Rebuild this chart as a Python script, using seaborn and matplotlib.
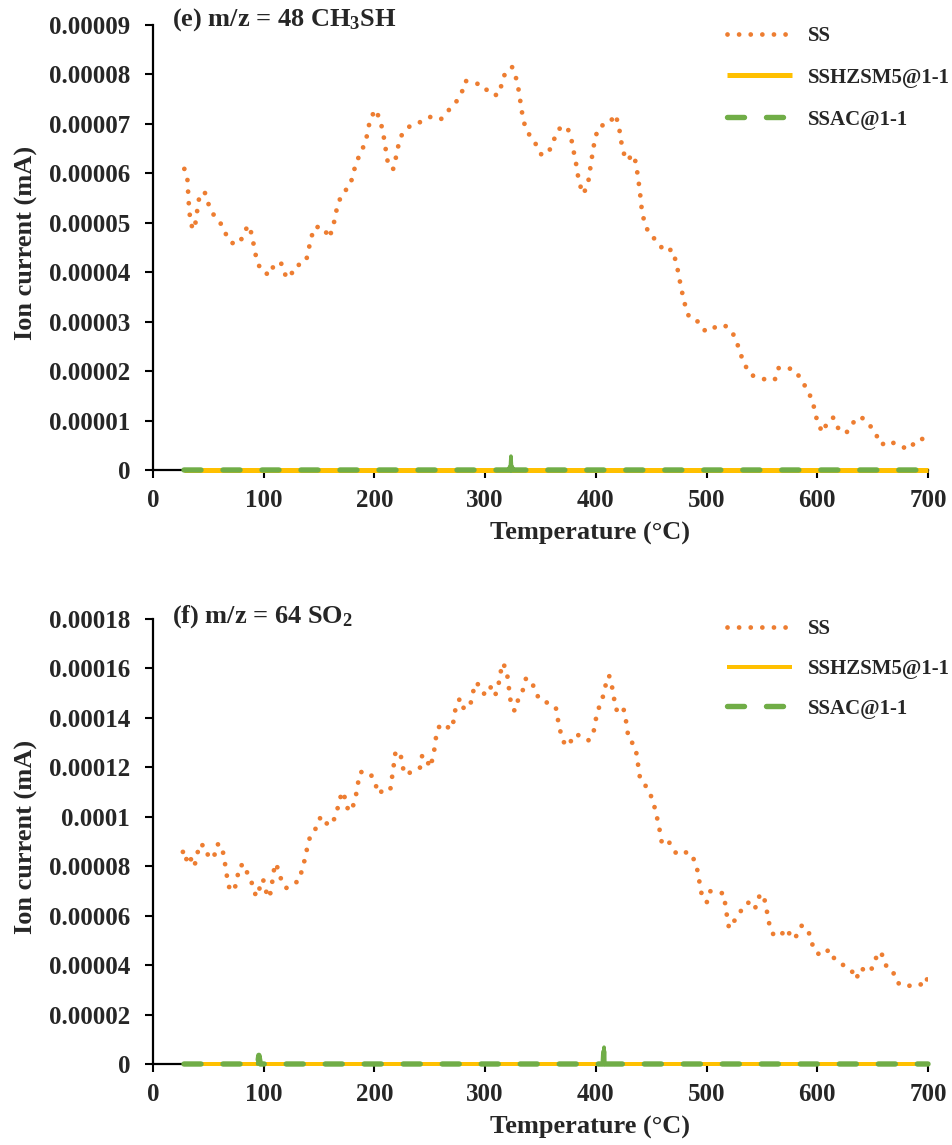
import matplotlib
matplotlib.use("Agg")
import matplotlib.pyplot as plt
import seaborn as sns
import numpy as np
import pandas as pd

UNIT = 1e-5  # values below are in units of 1e-5 mA

# ---------------- (e) m/z = 48 CH3SH ----------------
ss48_T = [28.3, 31, 31.6, 32.2, 33, 34.3, 37.3, 39.1, 40.4, 42.2, 46.7, 49.7, 54.2, 60.8, 65.3, 71.1,
          78.6, 82.2, 86.7, 89.7, 91.5, 93.7, 97.6, 105.4, 109.6, 115.6, 119, 124, 127.1, 132.8, 138.2,
          140.6, 142.7, 146.3, 154.2, 159, 162.6, 164.7, 166.8, 171, 178, 180.7, 183.4, 187.9, 192.1,
          194.2, 196.3, 201.2, 205.1, 207.8, 209.3, 211.1, 212.6, 217.1, 219.5, 221.6, 224.9, 232.2,
          241.8, 250.2, 259.9, 266.8, 273.7, 279.1, 282.1, 288.8, 297.8, 304.4, 311.7, 315, 318, 324.3,
          328, 330.2, 331.8, 333.4, 335.6, 340.1, 346.4, 351.2, 358.2, 362.3, 366.8, 373.8, 377.6, 379.5,
          381.7, 383.3, 385.2, 388.7, 392.9, 394.4, 396, 397.6, 399.5, 403, 411.9, 417.7, 420.8, 422.4,
          424, 427.5, 434.2, 436.7, 438, 439.6, 440.6, 441.8, 444.4, 448.5, 456.1, 461.5, 468.9, 472,
          474.3, 476.2, 478.4, 481, 484.4, 493.3, 499.1, 506.7, 516.2, 523.2, 527.4, 530.6, 534.7, 540.1,
          548, 555.4, 561.7, 564.9, 571.6, 580.2, 585.9, 591.6, 595.7, 598.3, 600.5, 605.3, 609.1, 614.5,
          619, 626, 631.4, 639.3, 647, 653, 657.8, 665.4, 673.3, 683.2, 689.6, 698.5]
ss48_v = [6.09, 5.91, 5.68, 5.43, 5.20, 4.96, 4.86, 5.10, 5.33, 5.57, 5.62, 5.40, 5.18, 5.00, 4.79, 4.59,
          4.59, 4.82, 4.95, 4.72, 4.48, 4.25, 4.03, 3.94, 4.17, 4.19, 3.96, 3.88, 4.10, 4.16, 4.22,
          4.46, 4.69, 4.92, 4.90, 4.69, 4.91, 5.14, 5.37, 5.59, 5.75, 5.98, 6.21, 6.43, 6.64,
          6.88, 7.11, 7.29, 7.07, 6.84, 6.60, 6.37, 6.13, 6.09, 6.33, 6.56, 6.79, 6.96,
          7.04, 7.14, 7.09, 7.27, 7.44, 7.65, 7.87, 7.83, 7.79, 7.60, 7.58, 7.80, 8.03, 8.15,
          7.92, 7.69, 7.45, 7.22, 6.99, 6.77, 6.57, 6.36, 6.47, 6.69, 6.90, 6.95, 6.73, 6.49,
          6.26, 6.02, 5.79, 5.58, 5.79, 6.02, 6.26, 6.49, 6.73, 6.95, 7.01, 7.19, 6.95, 6.72,
          6.49, 6.26, 6.38, 6.15, 5.91, 5.68, 5.44, 5.21, 4.97, 4.76, 4.62, 4.42, 4.46, 4.24,
          4.01, 3.78, 3.54, 3.30, 3.08, 2.99, 2.80, 2.88, 2.93, 2.79, 2.58, 2.35, 2.12, 1.92,
          1.87, 1.81, 1.83, 2.06, 2.08, 2.01, 1.81, 1.60, 1.39, 1.15, 0.92, 0.76, 0.98, 1.06,
          0.84, 0.74, 0.94, 1.08, 0.92, 0.72, 0.51, 0.59, 0.49, 0.42, 0.61, 0.64]
hz48_T = [28, 700]
hz48_v = [0, 0]
ac48_T = [28, 322.6, 323.3, 324.0, 700]
ac48_v = [0, 0, 0.28, 0, 0]

# ---------------- (f) m/z = 64 SO2 ----------------
ss64_T = [27, 29.5, 31.9, 34.6, 37.3, 39.7, 42.2, 47.9, 50.3, 55.4, 57.8, 62, 63.9, 65.7, 67.2, 69.6,
          73.8, 76.2, 78, 82.8, 85.8, 90.3, 93, 96, 99.4, 101.8, 105.1, 107.2, 108.4, 110.5, 113.8,
          116.3, 120.4, 125.6, 131.6, 134.6, 137.3, 139.4, 142.1, 148.1, 151.5, 156.3, 161.4, 165.3,
          168, 170.7, 174.3, 176.4, 180.7, 183.4, 185.2, 187.9, 191.8, 196.9, 200.5, 203.9, 209.9,
          214.4, 215.9, 217.4, 218.6, 223.1, 224.9, 227, 231.5, 236.4, 241.2, 243, 246.9, 249.6,
          252.9, 254.5, 255.9, 259.3, 265.6, 269.5, 272.2, 273.4, 277.3, 280.9, 286.4, 288.8, 290.9,
          294.8, 299, 304.2, 308.9, 311.9, 313.5, 315.9, 319.5, 320.7, 322.2, 323.4, 326.7, 329.7,
          334.2, 336.9, 342.1, 345.4, 349.6, 357.7, 363.8, 365.6, 367.7, 370.4, 375.8, 379.4, 386,
          393.6, 398.1, 399.9, 402.6, 406.2, 408.6, 411.9, 414.6, 416.4, 418.5, 424.3, 426.7, 428.2,
          429.7, 434.5, 437.2, 438.4, 440, 446, 450.1, 453.2, 455.6, 457.7, 459.5, 464.3, 468.8,
          473.1, 480, 485.4, 490.2, 492.6, 494.1, 496.2, 500.2, 503.2, 510.1, 515.2, 517, 518.5,
          520.3, 524.2, 529.6, 534.1, 539, 543.8, 546.5, 551.3, 553.5, 555.6, 557.4, 561.6, 569.1,
          573, 576.6, 581.1, 586, 591.7, 594.4, 598, 604, 610.7, 615.8, 624.2, 630.8, 635.3, 638.7,
          647.1, 651.9, 654.3, 658.3, 661.9, 667.9, 670.9, 676, 682.7, 691.1, 697.7, 700]
ss64_v = [8.58, 8.21, 8.50, 8.25, 7.98, 8.44, 8.91, 8.77, 8.31, 8.43, 8.89, 8.86, 8.40, 7.93, 7.46, 7.00,
          7.09, 7.55, 8.01, 8.08, 7.62, 7.23, 6.77, 7.08, 7.48, 7.01, 6.72, 7.17, 7.65, 8.12, 7.82,
          7.35, 7.12, 7.29, 7.39, 7.85, 8.31, 8.77, 9.24, 9.59, 10.02, 9.74, 9.66, 10.10,
          10.56, 11.02, 10.68, 10.21, 10.44, 10.89, 11.37, 11.82, 11.69, 11.70, 11.37, 10.92, 11.17,
          11.12, 11.60, 12.07, 12.54, 12.66, 12.19, 11.72, 11.77, 11.93, 11.99, 12.45, 12.45, 11.99,
          12.37, 12.84, 13.31, 13.75, 13.64, 13.54, 14.00, 14.47, 14.79, 14.36, 14.49, 14.97, 15.42,
          15.33, 14.98, 15.30, 14.89, 15.29, 15.75, 16.22, 15.93, 15.45, 14.98, 14.51, 14.28, 14.72,
          15.14, 15.60, 15.48, 15.04, 14.72, 14.59, 14.43, 13.96, 13.50, 13.04, 12.86, 13.30, 13.30,
          13.09, 13.47, 13.93, 14.39, 14.83, 15.29, 15.72, 15.26, 14.79, 14.32, 14.49, 14.04, 13.56,
          13.11, 12.93, 12.47, 12.00, 11.53, 11.19, 10.81, 10.36, 9.90, 9.44, 8.97, 9.10, 8.78,
          8.48, 8.56, 8.55, 8.12, 7.66, 7.19, 6.73, 6.54, 6.99, 6.92, 6.91, 6.43, 5.96,
          5.49, 5.74, 6.08, 6.44, 6.55, 6.28, 6.74, 6.88, 6.40, 5.93, 5.46, 5.15, 5.30,
          5.47, 5.06, 5.18, 5.60, 5.43, 4.98, 4.54, 4.38, 4.63, 4.23, 3.98, 3.79, 3.43, 3.88,
          3.71, 4.06, 4.53, 4.44, 3.99, 3.83, 3.36, 3.17, 3.16, 3.25, 3.16, 3.59]
hz64_T = [28, 700]
hz64_v = [0, 0]
ac64_T = [28, 94.5, 95.6, 97.0, 406.6, 407.4, 408.2, 700]
ac64_v = [0, 0, 0.35, 0, 0, 0.68, 0, 0]

series_names = ["SS", "SSHZSM5@1-1", "SSAC@1-1"]
panel_titles = ["(e) m/z = 48 CH$_3$SH", "(f) m/z = 64 SO$_2$"]
x_ticks = [0, 100, 200, 300, 400, 500, 600, 700]
y_max = [9, 18]
y_step = [1, 2]

C_SS = "#ED7D31"
C_HZ = "#FFC000"
C_AC = "#70AD47"

sns.set_style("ticks")
plt.rcParams["font.family"] = ["Liberation Serif", "DejaVu Serif"]
plt.rcParams["font.weight"] = "bold"
plt.rcParams["mathtext.default"] = "regular"
plt.rcParams["lines.scale_dashes"] = False

fig = plt.figure(figsize=(9.53, 11.45), dpi=100)
W, H = 953, 1145
axL, axR = 153, 928
boxes = [(25, 470), (619, 1064)]

panels = [
    (ss48_T, ss48_v, hz48_T, hz48_v, ac48_T, ac48_v),
    (ss64_T, ss64_v, hz64_T, hz64_v, ac64_T, ac64_v),
]

PX = 72 / 100  # points per pixel

for i, ((top, bot), data) in enumerate(zip(boxes, panels)):
    ax = fig.add_axes([axL / W, 1 - bot / H, (axR - axL) / W, (bot - top) / H])
    sT, sv, hT, hv, aT, av = data
    df_ss = pd.DataFrame({"T": sT, "v": np.array(sv) * UNIT})
    df_hz = pd.DataFrame({"T": hT, "v": np.array(hv) * UNIT})
    df_ac = pd.DataFrame({"T": aT, "v": np.array(av) * UNIT})

    sns.lineplot(data=df_ss, x="T", y="v", ax=ax, color=C_SS, estimator=None,
                 sort=False, label=series_names[0], zorder=3)
    l_ss = ax.lines[-1]
    l_ss.set_linewidth(4.8 * PX)
    l_ss.set_linestyle((0, (0.01, 11.6 * PX)))
    l_ss.set_dash_capstyle("round")

    sns.lineplot(data=df_hz, x="T", y="v", ax=ax, color=C_HZ, estimator=None,
                 sort=False, label=series_names[1], zorder=4)
    l_hz = ax.lines[-1]
    l_hz.set_linewidth((5.0 if i == 0 else 4.0) * PX)
    l_hz.set_linestyle("-")
    l_hz.set_solid_capstyle("butt")
    l_hz.set_clip_on(False)

    sns.lineplot(data=df_ac, x="T", y="v", ax=ax, color=C_AC, estimator=None,
                 sort=False, label=series_names[2], zorder=5)
    l_ac = ax.lines[-1]
    l_ac.set_linewidth(5.4 * PX)
    l_ac.set_linestyle((0, (17 * PX, 22 * PX)))
    l_ac.set_dash_capstyle("round")
    l_ac.set_clip_on(False)

    # spikes drawn solid (as in the original where the spike is continuous)
    spike = df_ac[df_ac["v"] > 0].index
    for k in spike:
        seg = df_ac.iloc[k - 1:k + 2]
        ax.plot(seg["T"], seg["v"], color=C_AC, linewidth=3.6 * PX, solid_capstyle="round",
                solid_joinstyle="round", zorder=5, clip_on=False)

    ax.set_xlim(0, 700)
    ax.set_ylim(0, y_max[i] * UNIT)
    ax.set_xticks(x_ticks)
    yt = np.arange(0, y_max[i] + y_step[i] / 2, y_step[i]) * UNIT
    ax.set_yticks(yt)
    ax.set_yticklabels([("%.5f" % v).rstrip("0").rstrip(".") for v in yt])
    ax.set_xticklabels([str(t) for t in x_ticks])
    for sp in ["top", "right"]:
        ax.spines[sp].set_visible(False)
    for sp in ["left", "bottom"]:
        ax.spines[sp].set_linewidth(1.6)
        ax.spines[sp].set_color("black")
    ax.tick_params(axis="both", direction="out", length=5.5, width=1.5, color="black",
                   labelsize=18, pad=11)
    ax.tick_params(axis="x", pad=8)
    for lab in ax.get_xticklabels() + ax.get_yticklabels():
        lab.set_fontweight("bold")

    ax.set_xlabel("Temperature (\u00b0C)", fontsize=19, fontweight="bold")
    ax.set_ylabel("Ion current (mA)", fontsize=19, fontweight="bold")
    ax.xaxis.set_label_coords(0.564, -0.117)
    ax.yaxis.set_label_coords(-0.148, 0.51)

    ax.text((172 - axL) / (axR - axL), 1.012 if i == 0 else 1.006, panel_titles[i],
            transform=ax.transAxes, fontsize=19, fontweight="bold", ha="left", va="center")

    leg = ax.legend(loc="upper left", bbox_to_anchor=((727 - axL) / (axR - axL), 0.998 if i == 0 else 1.0),
                    frameon=False, fontsize=15, handlelength=3.1, handletextpad=0.8,
                    labelspacing=1.05 if i == 0 else 0.95, borderpad=0, borderaxespad=0)
    for t in leg.get_texts():
        t.set_fontweight("bold")

fig.savefig("out.png", dpi=100, facecolor="white")
